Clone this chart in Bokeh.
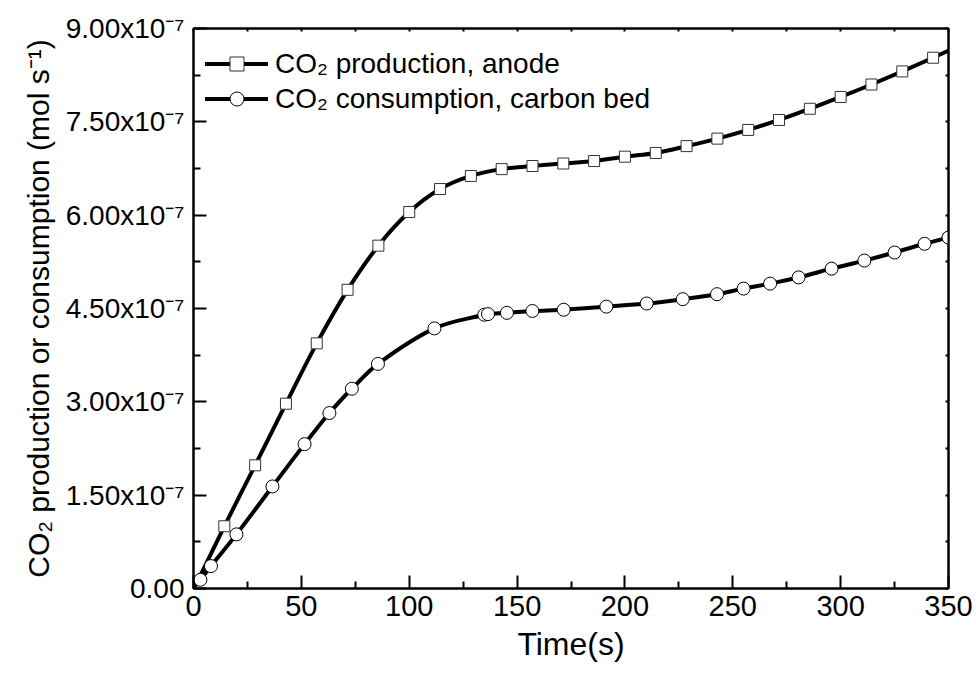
from bokeh.plotting import figure
from bokeh.models import (FixedTicker, LinearAxis, Legend, LegendItem, Range1d, ColumnDataSource,
                          CustomLabelingPolicy)
from bokeh.embed import file_html
from bokeh.resources import INLINE

# ---- data (values in units of 1e-7 mol s^-1) ----
anode_t = [1.0, 14.29, 28.57, 42.86, 57.14, 71.43, 85.71, 100.0, 114.29, 128.57, 142.86,
           157.14, 171.43, 185.71, 200.0, 214.29, 228.57, 242.86, 257.14, 271.43, 285.71,
           300.0, 314.29, 328.57, 342.86, 357.14]
anode_v = [0.05, 1.00, 1.98, 2.97, 3.94, 4.80, 5.51, 6.05, 6.42, 6.63, 6.74,
           6.79, 6.83, 6.87, 6.94, 7.00, 7.11, 7.23, 7.37, 7.53, 7.71,
           7.90, 8.10, 8.31, 8.53, 8.76]

bed_t = [3.2, 8.1, 19.9, 36.6, 51.5, 63.0, 73.4, 85.5, 111.7, 134.8, 136.5, 145.3, 157.1,
         171.6, 191.4, 210.1, 226.8, 242.7, 255.0, 267.3, 280.5, 295.8, 311.0, 325.0,
         338.9, 350.0]
bed_v = [0.14, 0.36, 0.87, 1.64, 2.32, 2.82, 3.21, 3.61, 4.18, 4.40, 4.41, 4.43, 4.46,
         4.48, 4.53, 4.58, 4.65, 4.73, 4.82, 4.90, 5.00, 5.14, 5.27, 5.40,
         5.54, 5.64]

x_ticks = [0, 50, 100, 150, 200, 250, 300, 350]
x_minor = [25, 75, 125, 175, 225, 275, 325]
y_ticks = [0, 1.5, 3.0, 4.5, 6.0, 7.5, 9.0]
y_minor = [0.75, 2.25, 3.75, 5.25, 6.75, 8.25]
y_tick_labels = ["0.00", "1.50x10⁻⁷", "3.00x10⁻⁷", "4.50x10⁻⁷", "6.00x10⁻⁷", "7.50x10⁻⁷", "9.00x10⁻⁷"]

label_anode = "CO₂ production, anode"
label_bed = "CO₂ consumption, carbon bed"
x_title = "Time(s)"
y_title = "CO₂ production or consumption (mol s⁻¹)"

FONT = "Liberation Sans"


def smooth_segments(xs, ys):
    """Cubic Hermite (x-parameterised) control points for a smooth connecting curve."""
    n = len(xs)
    d = []
    for i in range(n):
        if i == 0:
            d.append((ys[1] - ys[0]) / (xs[1] - xs[0]))
        elif i == n - 1:
            d.append((ys[-1] - ys[-2]) / (xs[-1] - xs[-2]))
        else:
            d.append((ys[i + 1] - ys[i - 1]) / (xs[i + 1] - xs[i - 1]))
    seg = dict(x0=[], y0=[], x1=[], y1=[], cx0=[], cy0=[], cx1=[], cy1=[])
    for i in range(n - 1):
        h = xs[i + 1] - xs[i]
        seg["x0"].append(xs[i]); seg["y0"].append(ys[i])
        seg["x1"].append(xs[i + 1]); seg["y1"].append(ys[i + 1])
        seg["cx0"].append(xs[i] + h / 3); seg["cy0"].append(ys[i] + d[i] * h / 3)
        seg["cx1"].append(xs[i + 1] - h / 3); seg["cy1"].append(ys[i + 1] - d[i + 1] * h / 3)
    return ColumnDataSource(seg)


p = figure(width=976, height=677, output_backend="svg", toolbar_location=None,
           x_range=Range1d(0, 350), y_range=Range1d(0, 9),
           min_border_left=193, min_border_right=28, min_border_top=28, min_border_bottom=89,
           x_axis_location=None, y_axis_location=None)
p.background_fill_color = "white"
p.border_fill_color = "white"
p.outline_line_color = "black"
p.outline_line_width = 2
p.xgrid.visible = False
p.ygrid.visible = False


def style_axis(ax, tick_font_size, title_font_size):
    ax.axis_line_width = 2
    ax.axis_line_color = "black"
    ax.major_tick_line_width = 2
    ax.minor_tick_line_width = 2
    ax.major_tick_line_color = "black"
    ax.minor_tick_line_color = "black"
    ax.major_tick_in = 13
    ax.major_tick_out = 0
    ax.minor_tick_in = 7
    ax.minor_tick_out = 0
    ax.major_label_text_font = FONT
    ax.major_label_text_font_size = tick_font_size
    ax.major_label_text_color = "black"
    ax.axis_label_text_font = FONT
    ax.axis_label_text_font_size = title_font_size
    ax.axis_label_text_font_style = "normal"
    ax.axis_label_text_color = "black"


xb = LinearAxis(ticker=FixedTicker(ticks=x_ticks, minor_ticks=x_minor), axis_label=x_title)
style_axis(xb, "29px", "32px")
xb.major_label_standoff = 7
xb.axis_label_standoff = 7
p.add_layout(xb, "below")

yl = LinearAxis(ticker=FixedTicker(ticks=y_ticks, minor_ticks=y_minor), axis_label=y_title)
style_axis(yl, "28px", "30px")
yl.major_label_overrides = {t: s for t, s in zip(y_ticks, y_tick_labels)}
yl.major_label_standoff = 9
yl.axis_label_standoff = 8
p.add_layout(yl, "left")

# mirror axes (top / right): short inward ticks, no labels
hide_all = CustomLabelingPolicy(code="""
    const n = indices.size
    for (let i = 0; i < n; i++) { indices.unset(i) }
    return indices
""")
for ticks, side in ((x_ticks + x_minor, "above"), (y_ticks + y_minor, "right")):
    ax = LinearAxis(ticker=FixedTicker(ticks=ticks, minor_ticks=[]))
    ax.axis_line_width = 2
    ax.major_tick_line_width = 2
    ax.major_tick_in = 3
    ax.major_tick_out = 0
    ax.minor_tick_in = 0
    ax.minor_tick_out = 0
    ax.major_label_text_font_size = "8px"
    ax.major_label_standoff = 0
    ax.major_label_policy = hide_all
    p.add_layout(ax, side)

# anode (squares)
src_a = smooth_segments(anode_t, anode_v)
la = p.bezier(x0="x0", y0="y0", x1="x1", y1="y1", cx0="cx0", cy0="cy0", cx1="cx1", cy1="cy1",
              source=src_a, line_color="black", line_width=4, line_cap="round")
sa = p.scatter(anode_t[1:], anode_v[1:], marker="square", size=11,
               fill_color="white", line_color="#333333", line_width=1)

# carbon bed (circles)
src_b = smooth_segments(bed_t, bed_v)
lb = p.bezier(x0="x0", y0="y0", x1="x1", y1="y1", cx0="cx0", cy0="cy0", cx1="cx1", cy1="cy1",
              source=src_b, line_color="black", line_width=4, line_cap="round")
sb = p.scatter(bed_t, bed_v, marker="circle", size=13,
               fill_color="white", line_color="black", line_width=1)

legend = Legend(items=[LegendItem(label=label_anode, renderers=[la, sa]),
                       LegendItem(label=label_bed, renderers=[lb, sb])],
                location=(12, 472), padding=0, spacing=0, margin=0,
                glyph_width=63, glyph_height=35, label_height=35, label_standoff=7,
                label_text_font=FONT, label_text_font_size="28px", label_text_color="black",
                border_line_color=None, background_fill_alpha=0)
p.add_layout(legend)

open("out.html", "w").write(file_html(p, INLINE))
